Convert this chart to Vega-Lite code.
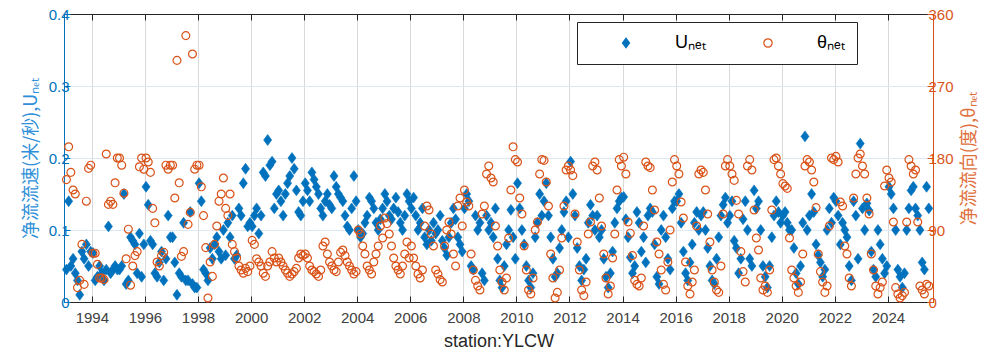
{
"$schema": "https://vega.github.io/schema/vega-lite/v6.json",
"width": 869, "height": 288,
"autosize": {"type": "none"},
"padding": {"left": 64, "top": 14, "right": 67, "bottom": 54},
"background": "white",
"config": {"font": "Liberation Sans", "view": {"stroke": null},
  "legend": {"orient": "none", "legendX": 513, "legendY": 8, "direction": "horizontal", "strokeColor": "#262626", "fillColor": "#ffffff", "padding": 12, "labelFontSize": 18, "labelColor": "#000000", "labelFont": "Liberation Sans", "symbolSize": 70, "labelOffset": 40, "columnPadding": 25, "symbolOffset": 28, "symbolStrokeWidth": 1.2}},
"data": {"values": [
{"t":1993.042,"u":0.045,"d":153},{"t":1993.125,"u":0.14,"d":194},{"t":1993.208,"u":0.05,"d":162},{"t":1993.292,"u":0.06,"d":140},{"t":1993.375,"u":0.04,"d":135},{"t":1993.458,"u":0.03,"d":18},{"t":1993.542,"u":0.01,"d":27},{"t":1993.625,"u":0.07,"d":72},{"t":1993.708,"u":0.06,"d":22},{"t":1993.792,"u":0.08,"d":126},{"t":1993.875,"u":0.05,"d":167},{"t":1993.958,"u":0.07,"d":171},
{"t":1994.042,"u":0.068,"d":61},{"t":1994.125,"u":0.03,"d":61},{"t":1994.208,"u":0.035,"d":47},{"t":1994.292,"u":0.05,"d":30},{"t":1994.375,"u":0.04,"d":30},{"t":1994.458,"u":0.03,"d":28},{"t":1994.542,"u":0.045,"d":185},{"t":1994.625,"u":0.105,"d":122},{"t":1994.708,"u":0.04,"d":126},{"t":1994.792,"u":0.045,"d":122},{"t":1994.875,"u":0.05,"d":149},{"t":1994.958,"u":0.045,"d":180},
{"t":1995.042,"u":0.045,"d":180},{"t":1995.125,"u":0.05,"d":171},{"t":1995.208,"u":0.15,"d":136},{"t":1995.292,"u":0.025,"d":54},{"t":1995.375,"u":0.03,"d":91},{"t":1995.458,"u":0.09,"d":21},{"t":1995.542,"u":0.085,"d":45},{"t":1995.625,"u":0.08,"d":58},{"t":1995.708,"u":0.04,"d":63},{"t":1995.792,"u":0.095,"d":169},{"t":1995.875,"u":0.035,"d":180},{"t":1995.958,"u":0.08,"d":166},
{"t":1996.042,"u":0.16,"d":180},{"t":1996.125,"u":0.135,"d":175},{"t":1996.208,"u":0.085,"d":162},{"t":1996.292,"u":0.08,"d":117},{"t":1996.375,"u":0.04,"d":99},{"t":1996.458,"u":0.035,"d":50},{"t":1996.542,"u":0.055,"d":45},{"t":1996.625,"u":0.07,"d":58},{"t":1996.708,"u":0.03,"d":62},{"t":1996.792,"u":0.06,"d":171},{"t":1996.875,"u":0.12,"d":166},{"t":1996.958,"u":0.09,"d":171},
{"t":1997.042,"u":0.09,"d":171},{"t":1997.125,"u":0.055,"d":130},{"t":1997.208,"u":0.01,"d":302},{"t":1997.292,"u":0.04,"d":149},{"t":1997.375,"u":0.035,"d":57},{"t":1997.458,"u":0.11,"d":63},{"t":1997.542,"u":0.03,"d":333},{"t":1997.625,"u":0.03,"d":97},{"t":1997.708,"u":0.125,"d":112},{"t":1997.792,"u":0.025,"d":310},{"t":1997.875,"u":0.02,"d":166},{"t":1997.958,"u":0.02,"d":171},
{"t":1998.042,"u":0.165,"d":171},{"t":1998.125,"u":0.14,"d":144},{"t":1998.208,"u":0.045,"d":108},{"t":1998.292,"u":0.04,"d":68},{"t":1998.375,"u":0.03,"d":5},{"t":1998.458,"u":0.075,"d":50},{"t":1998.542,"u":0.06,"d":32},{"t":1998.625,"u":0.08,"d":72},{"t":1998.708,"u":0.09,"d":95},{"t":1998.792,"u":0.07,"d":126},{"t":1998.875,"u":0.06,"d":135},{"t":1998.958,"u":0.1,"d":155},
{"t":1999.042,"u":0.065,"d":117},{"t":1999.125,"u":0.11,"d":108},{"t":1999.208,"u":0.09,"d":135},{"t":1999.292,"u":0.12,"d":72},{"t":1999.375,"u":0.06,"d":63},{"t":1999.458,"u":0.065,"d":55},{"t":1999.542,"u":0.13,"d":45},{"t":1999.625,"u":0.12,"d":40},{"t":1999.708,"u":0.165,"d":36},{"t":1999.792,"u":0.185,"d":42},{"t":1999.875,"u":0.105,"d":38},{"t":1999.958,"u":0.11,"d":45},
{"t":2000.042,"u":0.105,"d":77},{"t":2000.125,"u":0.12,"d":72},{"t":2000.208,"u":0.13,"d":54},{"t":2000.292,"u":0.095,"d":50},{"t":2000.375,"u":0.12,"d":45},{"t":2000.458,"u":0.18,"d":36},{"t":2000.542,"u":0.175,"d":32},{"t":2000.625,"u":0.225,"d":45},{"t":2000.708,"u":0.19,"d":50},{"t":2000.792,"u":0.195,"d":63},{"t":2000.875,"u":0.13,"d":55},{"t":2000.958,"u":0.15,"d":50},
{"t":2001.042,"u":0.155,"d":55},{"t":2001.125,"u":0.14,"d":50},{"t":2001.208,"u":0.12,"d":45},{"t":2001.292,"u":0.15,"d":40},{"t":2001.375,"u":0.165,"d":36},{"t":2001.458,"u":0.175,"d":32},{"t":2001.542,"u":0.2,"d":35},{"t":2001.625,"u":0.185,"d":38},{"t":2001.708,"u":0.155,"d":42},{"t":2001.792,"u":0.125,"d":55},{"t":2001.875,"u":0.12,"d":60},{"t":2001.958,"u":0.14,"d":58},
{"t":2002.042,"u":0.165,"d":60},{"t":2002.125,"u":0.155,"d":55},{"t":2002.208,"u":0.14,"d":45},{"t":2002.292,"u":0.18,"d":40},{"t":2002.375,"u":0.17,"d":38},{"t":2002.458,"u":0.16,"d":35},{"t":2002.542,"u":0.15,"d":32},{"t":2002.625,"u":0.13,"d":40},{"t":2002.708,"u":0.12,"d":70},{"t":2002.792,"u":0.14,"d":75},{"t":2002.875,"u":0.15,"d":60},{"t":2002.958,"u":0.135,"d":50},
{"t":2003.042,"u":0.13,"d":45},{"t":2003.125,"u":0.175,"d":40},{"t":2003.208,"u":0.16,"d":38},{"t":2003.292,"u":0.15,"d":50},{"t":2003.375,"u":0.145,"d":62},{"t":2003.458,"u":0.14,"d":65},{"t":2003.542,"u":0.12,"d":58},{"t":2003.625,"u":0.105,"d":50},{"t":2003.708,"u":0.1,"d":45},{"t":2003.792,"u":0.13,"d":40},{"t":2003.875,"u":0.175,"d":35},{"t":2003.958,"u":0.14,"d":38},
{"t":2004.042,"u":0.1,"d":90},{"t":2004.125,"u":0.09,"d":85},{"t":2004.208,"u":0.095,"d":70},{"t":2004.292,"u":0.11,"d":60},{"t":2004.375,"u":0.12,"d":45},{"t":2004.458,"u":0.145,"d":40},{"t":2004.542,"u":0.14,"d":35},{"t":2004.625,"u":0.13,"d":50},{"t":2004.708,"u":0.11,"d":60},{"t":2004.792,"u":0.1,"d":70},{"t":2004.875,"u":0.115,"d":95},{"t":2004.958,"u":0.13,"d":80},
{"t":2005.042,"u":0.15,"d":105},{"t":2005.125,"u":0.14,"d":98},{"t":2005.208,"u":0.12,"d":85},{"t":2005.292,"u":0.115,"d":70},{"t":2005.375,"u":0.13,"d":55},{"t":2005.458,"u":0.145,"d":45},{"t":2005.542,"u":0.125,"d":40},{"t":2005.625,"u":0.11,"d":35},{"t":2005.708,"u":0.1,"d":45},{"t":2005.792,"u":0.12,"d":60},{"t":2005.875,"u":0.15,"d":75},{"t":2005.958,"u":0.14,"d":55},
{"t":2006.042,"u":0.13,"d":70},{"t":2006.125,"u":0.145,"d":55},{"t":2006.208,"u":0.12,"d":45},{"t":2006.292,"u":0.1,"d":35},{"t":2006.375,"u":0.11,"d":30},{"t":2006.458,"u":0.13,"d":40},{"t":2006.542,"u":0.09,"d":95},{"t":2006.625,"u":0.08,"d":120},{"t":2006.708,"u":0.1,"d":115},{"t":2006.792,"u":0.085,"d":85},{"t":2006.875,"u":0.11,"d":70},{"t":2006.958,"u":0.095,"d":40},
{"t":2007.042,"u":0.1,"d":35},{"t":2007.125,"u":0.12,"d":28},{"t":2007.208,"u":0.085,"d":25},{"t":2007.292,"u":0.075,"d":70},{"t":2007.375,"u":0.065,"d":90},{"t":2007.458,"u":0.09,"d":100},{"t":2007.542,"u":0.11,"d":85},{"t":2007.625,"u":0.13,"d":60},{"t":2007.708,"u":0.115,"d":45},{"t":2007.792,"u":0.09,"d":120},{"t":2007.875,"u":0.08,"d":130},{"t":2007.958,"u":0.07,"d":95},
{"t":2008.042,"u":0.13,"d":140},{"t":2008.125,"u":0.15,"d":125},{"t":2008.208,"u":0.14,"d":120},{"t":2008.292,"u":0.05,"d":60},{"t":2008.375,"u":0.045,"d":40},{"t":2008.458,"u":0.12,"d":27},{"t":2008.542,"u":0.1,"d":20},{"t":2008.625,"u":0.11,"d":15},{"t":2008.708,"u":0.04,"d":110},{"t":2008.792,"u":0.03,"d":120},{"t":2008.875,"u":0.12,"d":160},{"t":2008.958,"u":0.1,"d":170},
{"t":2009.042,"u":0.11,"d":155},{"t":2009.125,"u":0.09,"d":150},{"t":2009.208,"u":0.13,"d":95},{"t":2009.292,"u":0.06,"d":70},{"t":2009.375,"u":0.03,"d":40},{"t":2009.458,"u":0.02,"d":25},{"t":2009.542,"u":0.05,"d":15},{"t":2009.625,"u":0.08,"d":30},{"t":2009.708,"u":0.1,"d":80},{"t":2009.792,"u":0.128,"d":140},{"t":2009.875,"u":0.09,"d":194},{"t":2009.958,"u":0.06,"d":178},
{"t":2010.042,"u":0.165,"d":175},{"t":2010.125,"u":0.13,"d":130},{"t":2010.208,"u":0.1,"d":110},{"t":2010.292,"u":0.08,"d":70},{"t":2010.375,"u":0.05,"d":40},{"t":2010.458,"u":0.03,"d":15},{"t":2010.542,"u":0.02,"d":10},{"t":2010.625,"u":0.04,"d":30},{"t":2010.708,"u":0.09,"d":90},{"t":2010.792,"u":0.11,"d":100},{"t":2010.875,"u":0.15,"d":160},{"t":2010.958,"u":0.12,"d":178},
{"t":2011.042,"u":0.14,"d":177},{"t":2011.125,"u":0.165,"d":150},{"t":2011.208,"u":0.12,"d":120},{"t":2011.292,"u":0.09,"d":60},{"t":2011.375,"u":0.06,"d":30},{"t":2011.458,"u":0.035,"d":5},{"t":2011.542,"u":0.04,"d":12},{"t":2011.625,"u":0.075,"d":40},{"t":2011.708,"u":0.1,"d":80},{"t":2011.792,"u":0.125,"d":120},{"t":2011.875,"u":0.14,"d":165},{"t":2011.958,"u":0.09,"d":170},
{"t":2012.042,"u":0.195,"d":165},{"t":2012.125,"u":0.15,"d":158},{"t":2012.208,"u":0.12,"d":110},{"t":2012.292,"u":0.075,"d":75},{"t":2012.375,"u":0.05,"d":40},{"t":2012.458,"u":0.03,"d":15},{"t":2012.542,"u":0.045,"d":8},{"t":2012.625,"u":0.06,"d":25},{"t":2012.708,"u":0.11,"d":85},{"t":2012.792,"u":0.135,"d":100},{"t":2012.875,"u":0.12,"d":170},{"t":2012.958,"u":0.1,"d":175},
{"t":2013.042,"u":0.12,"d":165},{"t":2013.125,"u":0.09,"d":130},{"t":2013.208,"u":0.1,"d":95},{"t":2013.292,"u":0.06,"d":60},{"t":2013.375,"u":0.035,"d":30},{"t":2013.458,"u":0.02,"d":10},{"t":2013.542,"u":0.04,"d":20},{"t":2013.625,"u":0.07,"d":55},{"t":2013.708,"u":0.11,"d":85},{"t":2013.792,"u":0.13,"d":140},{"t":2013.875,"u":0.14,"d":178},{"t":2013.958,"u":0.145,"d":170},
{"t":2014.042,"u":0.146,"d":181},{"t":2014.125,"u":0.115,"d":160},{"t":2014.208,"u":0.09,"d":100},{"t":2014.292,"u":0.062,"d":86},{"t":2014.375,"u":0.04,"d":58},{"t":2014.458,"u":0.05,"d":27},{"t":2014.542,"u":0.125,"d":22},{"t":2014.625,"u":0.11,"d":20},{"t":2014.708,"u":0.07,"d":30},{"t":2014.792,"u":0.09,"d":95},{"t":2014.875,"u":0.055,"d":175},{"t":2014.958,"u":0.12,"d":170},
{"t":2015.042,"u":0.13,"d":168},{"t":2015.125,"u":0.125,"d":140},{"t":2015.208,"u":0.08,"d":115},{"t":2015.292,"u":0.035,"d":75},{"t":2015.375,"u":0.025,"d":60},{"t":2015.458,"u":0.1,"d":40},{"t":2015.542,"u":0.12,"d":22},{"t":2015.625,"u":0.09,"d":15},{"t":2015.708,"u":0.06,"d":50},{"t":2015.792,"u":0.045,"d":90},{"t":2015.875,"u":0.13,"d":150},{"t":2015.958,"u":0.14,"d":178},
{"t":2016.042,"u":0.14,"d":170},{"t":2016.125,"u":0.15,"d":160},{"t":2016.208,"u":0.11,"d":125},{"t":2016.292,"u":0.07,"d":105},{"t":2016.375,"u":0.04,"d":50},{"t":2016.458,"u":0.03,"d":20},{"t":2016.542,"u":0.055,"d":10},{"t":2016.625,"u":0.08,"d":25},{"t":2016.708,"u":0.11,"d":40},{"t":2016.792,"u":0.125,"d":95},{"t":2016.875,"u":0.1,"d":160},{"t":2016.958,"u":0.12,"d":165},
{"t":2017.042,"u":0.125,"d":162},{"t":2017.125,"u":0.1,"d":140},{"t":2017.208,"u":0.075,"d":110},{"t":2017.292,"u":0.05,"d":75},{"t":2017.375,"u":0.03,"d":40},{"t":2017.458,"u":0.025,"d":25},{"t":2017.542,"u":0.06,"d":15},{"t":2017.625,"u":0.09,"d":12},{"t":2017.708,"u":0.12,"d":45},{"t":2017.792,"u":0.135,"d":110},{"t":2017.875,"u":0.145,"d":170},{"t":2017.958,"u":0.11,"d":178},
{"t":2018.042,"u":0.12,"d":170},{"t":2018.125,"u":0.14,"d":160},{"t":2018.208,"u":0.085,"d":152},{"t":2018.292,"u":0.075,"d":127},{"t":2018.375,"u":0.04,"d":110},{"t":2018.458,"u":0.06,"d":63},{"t":2018.542,"u":0.115,"d":38},{"t":2018.625,"u":0.14,"d":25},{"t":2018.708,"u":0.1,"d":170},{"t":2018.792,"u":0.06,"d":178},{"t":2018.875,"u":0.05,"d":165},{"t":2018.958,"u":0.155,"d":115},
{"t":2019.042,"u":0.13,"d":80},{"t":2019.125,"u":0.14,"d":65},{"t":2019.208,"u":0.1,"d":30},{"t":2019.292,"u":0.05,"d":15},{"t":2019.375,"u":0.035,"d":20},{"t":2019.458,"u":0.02,"d":12},{"t":2019.542,"u":0.05,"d":40},{"t":2019.625,"u":0.09,"d":115},{"t":2019.708,"u":0.12,"d":178},{"t":2019.792,"u":0.14,"d":180},{"t":2019.875,"u":0.125,"d":170},{"t":2019.958,"u":0.11,"d":160},
{"t":2020.042,"u":0.12,"d":148},{"t":2020.125,"u":0.125,"d":145},{"t":2020.208,"u":0.11,"d":142},{"t":2020.292,"u":0.1,"d":80},{"t":2020.375,"u":0.1,"d":40},{"t":2020.458,"u":0.075,"d":30},{"t":2020.542,"u":0.04,"d":20},{"t":2020.625,"u":0.025,"d":12},{"t":2020.708,"u":0.05,"d":25},{"t":2020.792,"u":0.11,"d":60},{"t":2020.875,"u":0.23,"d":170},{"t":2020.958,"u":0.1,"d":178},
{"t":2021.042,"u":0.12,"d":175},{"t":2021.125,"u":0.15,"d":165},{"t":2021.208,"u":0.125,"d":150},{"t":2021.292,"u":0.08,"d":118},{"t":2021.375,"u":0.065,"d":60},{"t":2021.458,"u":0.055,"d":38},{"t":2021.542,"u":0.035,"d":25},{"t":2021.625,"u":0.045,"d":12},{"t":2021.708,"u":0.1,"d":20},{"t":2021.792,"u":0.13,"d":95},{"t":2021.875,"u":0.11,"d":180},{"t":2021.958,"u":0.145,"d":178},
{"t":2022.042,"u":0.14,"d":182},{"t":2022.125,"u":0.12,"d":175},{"t":2022.208,"u":0.08,"d":125},{"t":2022.292,"u":0.11,"d":120},{"t":2022.375,"u":0.1,"d":70},{"t":2022.458,"u":0.09,"d":60},{"t":2022.542,"u":0.05,"d":30},{"t":2022.625,"u":0.03,"d":20},{"t":2022.708,"u":0.14,"d":130},{"t":2022.792,"u":0.12,"d":160},{"t":2022.875,"u":0.06,"d":180},{"t":2022.958,"u":0.22,"d":185},
{"t":2023.042,"u":0.13,"d":170},{"t":2023.125,"u":0.1,"d":160},{"t":2023.208,"u":0.137,"d":130},{"t":2023.292,"u":0.127,"d":110},{"t":2023.375,"u":0.07,"d":60},{"t":2023.458,"u":0.045,"d":40},{"t":2023.542,"u":0.035,"d":20},{"t":2023.625,"u":0.1,"d":10},{"t":2023.708,"u":0.08,"d":18},{"t":2023.792,"u":0.06,"d":25},{"t":2023.875,"u":0.04,"d":145},{"t":2023.958,"u":0.05,"d":165},
{"t":2024.042,"u":0.16,"d":155},{"t":2024.125,"u":0.15,"d":150},{"t":2024.208,"u":0.13,"d":100},{"t":2024.292,"u":0.1,"d":18},{"t":2024.375,"u":0.045,"d":10},{"t":2024.458,"u":0.035,"d":5},{"t":2024.542,"u":0.02,"d":8},{"t":2024.625,"u":0.04,"d":12},{"t":2024.708,"u":0.1,"d":100},{"t":2024.792,"u":0.13,"d":178},{"t":2024.875,"u":0.155,"d":170},{"t":2024.958,"u":0.16,"d":160},
{"t":2025.042,"u":0.13,"d":165},{"t":2025.125,"u":0.12,"d":100},{"t":2025.208,"u":0.1,"d":20},{"t":2025.292,"u":0.055,"d":15},{"t":2025.375,"u":0.045,"d":10},{"t":2025.458,"u":0.16,"d":22},{"t":2025.542,"u":0.13,"d":20}
]},
"layer": [
{"mark": {"type": "point", "filled": true, "size": 90, "strokeWidth": 0.6, "opacity": 1},
 "encoding": {
  "x": {"field": "t", "type": "quantitative", "scale": {"domain": [1992.95, 2025.7], "nice": false, "zero": false},
   "axis": {"orient": "bottom", "values": [1994,1996,1998,2000,2002,2004,2006,2008,2010,2012,2014,2016,2018,2020,2022,2024], "format": "d", "title": "station:YLCW", "grid": true, "gridColor": "#d9d9d9", "gridWidth": 1, "domainColor": "#262626", "tickColor": "#262626", "tickSize": -6, "labelColor": "#404040", "labelFontSize": 15, "labelPadding": 14, "titleFontSize": 18, "titleFontWeight": "normal", "titleColor": "#262626", "titlePadding": 7}},
  "y": {"field": "u", "type": "quantitative", "scale": {"domain": [0, 0.4], "nice": false},
   "axis": {"values": [0,0.1,0.2,0.3,0.4], "format": ".1~f", "title": "净流流速(米/秒),Uₙₑₜ", "titleFont": "Noto Sans CJK SC", "titleFontSize": 18, "titleFontWeight": "normal", "titleColor": "#2f8fd8", "titlePadding": 8, "grid": true, "gridColor": "#dce9f5", "domainColor": "#0072BD", "tickColor": "#0072BD", "tickSize": -6, "labelColor": "#0072BD", "labelFontSize": 15, "labelPadding": 1}},
  "fill": {"datum": "Uₙₑₜ", "scale": {"domain": ["Uₙₑₜ","θₙₑₜ"], "range": ["#0072BD","transparent"]}, "legend": {"title": null}},
  "stroke": {"datum": "Uₙₑₜ", "scale": {"domain": ["Uₙₑₜ","θₙₑₜ"], "range": ["#0072BD","#D95319"]}, "legend": {"title": null}},
  "shape": {"datum": "Uₙₑₜ", "scale": {"domain": ["Uₙₑₜ","θₙₑₜ"], "range": ["M0,-1.15L0.85,0L0,1.15L-0.85,0Z","circle"]}, "legend": {"title": null}}
 }},
{"mark": {"type": "point", "filled": true, "size": 62, "strokeWidth": 1.2, "opacity": 1},
 "encoding": {
  "x": {"field": "t", "type": "quantitative", "scale": {"domain": [1992.95, 2025.7], "nice": false, "zero": false},
   "axis": {"orient": "top", "values": [1994,1996,1998,2000,2002,2004,2006,2008,2010,2012,2014,2016,2018,2020,2022,2024], "labels": false, "title": null, "grid": false, "domainColor": "#262626", "tickColor": "#262626", "tickSize": -6}},
  "y": {"field": "d", "type": "quantitative", "scale": {"domain": [0, 360], "nice": false},
   "axis": {"orient": "right", "values": [0,90,180,270,360], "title": "净流流向(度),θₙₑₜ", "titleAngle": -90, "titleBaseline": "top", "titleFont": "Noto Sans CJK SC", "titleFontSize": 18, "titleFontWeight": "normal", "titleColor": "#e07040", "titlePadding": 7, "grid": false, "domainColor": "#D95319", "tickColor": "#D95319", "tickSize": -6, "labelColor": "#D95319", "labelFontSize": 15, "labelPadding": 1}},
  "fill": {"datum": "θₙₑₜ", "legend": {"title": null}},
  "stroke": {"datum": "θₙₑₜ", "legend": {"title": null}},
  "shape": {"datum": "θₙₑₜ", "legend": {"title": null}}
 }}
],
"resolve": {"scale": {"x": "independent", "y": "independent"}, "axis": {"x": "independent", "y": "independent"}}
}
